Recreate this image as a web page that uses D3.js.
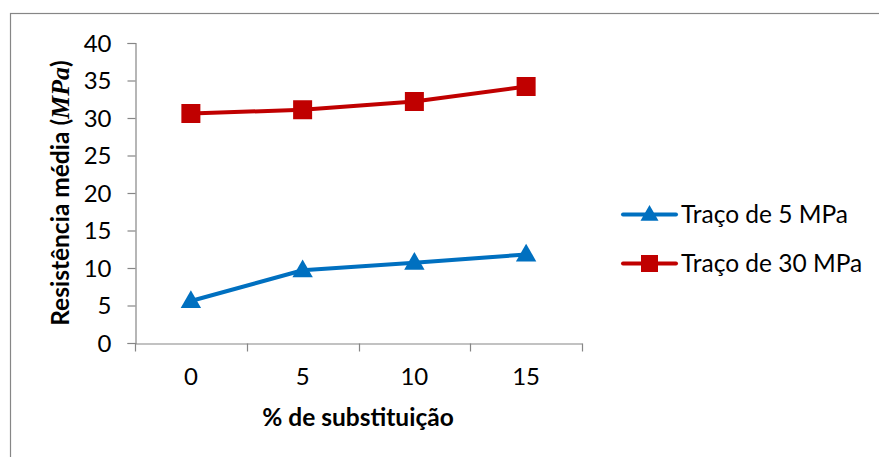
<!DOCTYPE html>
<html>
<head>
<meta charset="utf-8">
<script src="https://cdn.jsdelivr.net/npm/d3@7"></script>
<style>
  html, body { margin: 0; padding: 0; background: #fff; }
  svg { display: block; }
  text { font-family: Lato, "Open Sans", sans-serif; fill: #000; }
</style>
</head>
<body>
<script>
// Compressive strength by replacement percentage
const categories = ["0", "5", "10", "15"];
const traco5 = [5.6, 9.7, 10.7, 11.8];
const traco30 = [30.6, 31.1, 32.2, 34.2];
const yTicks = [0, 5, 10, 15, 20, 25, 30, 35, 40];
const seriesNames = ["Traço de 5 MPa", "Traço de 30 MPa"];

const W = 879, H = 457;
const svg = d3.select("body").append("svg").attr("width", W).attr("height", H);

// outer chart frame
svg.append("rect")
  .attr("x", 10.5).attr("y", 13.5)
  .attr("width", 900).attr("height", 500)
  .attr("fill", "none").attr("stroke", "#868686").attr("stroke-width", 1.2);

const x = d3.scaleBand().domain(categories).range([135, 582]);
const y = d3.scaleLinear().domain([0, 40]).range([343, 43]);
const cx = d => x(d) + x.bandwidth() / 2;

const axisColor = "#868686";
const tickFont = 24;
const labelFont = 24.5;

// y axis
const gy = svg.append("g").attr("transform", "translate(135.5,0)")
  .call(d3.axisLeft(y).tickValues(yTicks).tickSize(8).tickPadding(16));
gy.select(".domain").attr("stroke", axisColor).attr("stroke-width", 1.2);
gy.selectAll(".tick line").attr("stroke", axisColor).attr("stroke-width", 1.2);
gy.selectAll(".tick text").attr("font-size", tickFont).attr("font-family", "Lato").attr("fill", "#000").attr("dy", "0.35em");

// x axis
const gx = svg.append("g").attr("transform", "translate(0,343.5)")
  .call(d3.axisBottom(x).tickSize(0).tickPadding(24));
gx.select(".domain").attr("stroke", axisColor).attr("stroke-width", 1.2);
gx.selectAll(".tick text").attr("font-size", tickFont).attr("font-family", "Lato").attr("fill", "#000");
const bounds = categories.map(c => x(c)).concat([x.range()[1]]);
gx.selectAll(".bound").data(bounds).enter().append("line")
  .attr("x1", d => Math.round(d) + 0.5).attr("x2", d => Math.round(d) + 0.5)
  .attr("y1", 0).attr("y2", 8)
  .attr("stroke", axisColor).attr("stroke-width", 1.2);

// axis titles
svg.append("text")
  .attr("x", 358).attr("y", 426)
  .attr("text-anchor", "middle")
  .attr("font-size", labelFont).attr("font-weight", "bold")
  .text("% de substituição");

const yt = svg.append("text")
  .attr("transform", "translate(69,193) rotate(-90)")
  .attr("text-anchor", "middle")
  .attr("font-size", labelFont).attr("font-weight", "bold");
yt.append("tspan").text("Resistência média (");
yt.append("tspan").attr("font-family", "Liberation Serif, serif").attr("font-style", "italic").attr("font-size", 26).text("MPa");
yt.append("tspan").text(")");

const blue = "#0070C0", red = "#C00000";
const line = d3.line().x((d, i) => cx(categories[i])).y(d => y(d));
const tri = d3.symbol().type(d3.symbolTriangle).size(180);

// 5 MPa series
svg.append("path").datum(traco5).attr("d", line)
  .attr("fill", "none").attr("stroke", blue).attr("stroke-width", 4).attr("stroke-linejoin", "round");
svg.selectAll(".t5").data(traco5).enter().append("path")
  .attr("d", tri)
  .attr("transform", (d, i) => `translate(${cx(categories[i])},${y(d) + 1})`)
  .attr("fill", blue);

// 30 MPa series
svg.append("path").datum(traco30).attr("d", line)
  .attr("fill", "none").attr("stroke", red).attr("stroke-width", 4).attr("stroke-linejoin", "round");
svg.selectAll(".t30").data(traco30).enter().append("rect")
  .attr("x", (d, i) => cx(categories[i]) - 9.5)
  .attr("y", d => y(d) - 9.5)
  .attr("width", 19).attr("height", 19)
  .attr("fill", red);

// legend
const legend = svg.append("g");
const items = [
  { name: seriesNames[0], color: blue, marker: "tri", y: 214.5 },
  { name: seriesNames[1], color: red, marker: "sq", y: 263.5 }
];
items.forEach(it => {
  legend.append("line").attr("x1", 623).attr("x2", 676).attr("y1", it.y).attr("y2", it.y)
    .attr("stroke", it.color).attr("stroke-width", 4).attr("stroke-linecap", "round");
  if (it.marker === "tri") {
    legend.append("path").attr("d", d3.symbol().type(d3.symbolTriangle).size(140))
      .attr("transform", `translate(649.5,${it.y + 1})`).attr("fill", it.color);
  } else {
    legend.append("rect").attr("x", 641).attr("y", it.y - 8.5).attr("width", 17).attr("height", 17).attr("fill", it.color);
  }
  legend.append("text").attr("x", 681).attr("y", it.y).attr("dy", "0.35em")
    .attr("font-size", labelFont).text(it.name);
});
</script>
</body>
</html>
